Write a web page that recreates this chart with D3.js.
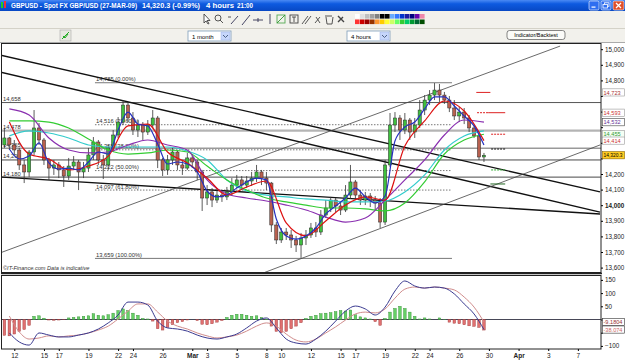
<!DOCTYPE html>
<html>
<head>
<meta charset="utf-8">
<title>GBPUSD 4 hours</title>
<script src="https://cdnjs.cloudflare.com/ajax/libs/d3/7.8.5/d3.min.js"></script>
<style>
  body { margin: 0; background: #ece9d8; overflow: hidden; }
  svg { display: block; font-family: "Liberation Sans", Arial, sans-serif; }
</style>
</head>
<body>
<div id="chart"></div>
<script>
// candles: 3 per trading day, day 0 = thu 12 feb 2009
var firstCandleDay = -2 / 3;
var candlesPerDay = 3;

var opens = [14386,14431,14386,14354,14258,14213,14341,14495,14418,14290, 14238,14258,14226,14187,14251,14277,14213,14238,14322,14405,
    14290,14258,14367,14450,14533,14642,14559,14482,14514,14469, 14514,14559,14290,14226,14290,14341,14258,14238,14303,14277,
    14213,14046,14085,14033,14065,14053,14085,14129,14162,14129, 14155,14174,14213,14174,14142,13873,13777,13828,13809,13777,
    13745,13790,13809,13854,13828,13937,13982,14033,13995,13969, 14065,14149,14065,14033,14059,14033,14014,13892,14258,14514,
    14559,14482,14546,14469,14514,14610,14674,14706,14738,14706, 14674,14623,14572,14597,14559,14495,14444,14309];
var highs = [14495,14437,14418,14367,14290,14354,14610,14527,14431,14303, 14290,14277,14251,14303,14315,14290,14277,14367,14437,14418,
    14322,14386,14482,14565,14674,14662,14597,14546,14533,14546, 14610,14572,14303,14322,14367,14354,14290,14335,14328,14290,
    14226,14129,14110,14110,14097,14117,14174,14194,14187,14187, 14213,14258,14226,14213,14149,13892,13854,13854,13841,13803,
    13822,13841,13886,13892,13969,14033,14053,14046,14021,14129, 14258,14162,14097,14085,14078,14059,14046,14290,14591,14597,
    14578,14591,14559,14559,14674,14706,14738,14783,14777,14726, 14700,14674,14629,14623,14578,14514,14456,14335];
var lows = [14367,14354,14322,14226,14142,14181,14322,14386,14258,14162, 14194,14174,14117,14162,14226,14097,14174,14213,14290,14258,
    14168,14226,14341,14431,14514,14533,14450,14437,14418,14450, 14495,14238,14187,14194,14258,14226,14194,14226,14238,14162,
    13963,14001,13988,14014,14021,14033,14059,14110,14097,14110, 14123,14149,14129,14097,13828,13751,13758,13777,13726,13700,
    13662,13745,13790,13796,13809,13918,13956,13956,13937,13956, 14040,14033,14001,14001,13988,13969,13854,13873,14245,14469,
    14418,14456,14418,14431,14495,14578,14642,14674,14662,14649, 14597,14546,14533,14520,14469,14431,14290,14277];
var closes = [14431,14386,14354,14258,14213,14341,14495,14418,14290,14238, 14258,14226,14187,14251,14277,14213,14238,14322,14405,14290,
    14258,14367,14450,14533,14642,14559,14482,14514,14469,14514, 14559,14290,14226,14290,14341,14258,14238,14303,14277,14213,
    14046,14085,14033,14065,14053,14085,14129,14162,14129,14155, 14174,14213,14174,14142,13873,13777,13828,13809,13777,13745,
    13790,13809,13854,13828,13937,13982,14033,13995,13969,14065, 14149,14065,14033,14059,14033,14014,13892,14258,14514,14559,
    14482,14546,14469,14514,14610,14674,14706,14738,14706,14674, 14623,14572,14597,14559,14495,14444,14309,14320.3];

// moving averages, read every 2nd candle (fast) or every 4th candle (slow)
var maBlue = [14360,14296,14315,14399,14271,14232,14238,14226,14277,14341, 14328,14482,14597,14520,14508,14392,14264,14277,14264,14213,
    14091,14053,14065,14110,14149,14174,14162,13912,13803,13783, 13803,13854,13944,13995,14046,14110,14053,14014,14059,14412,
    14501,14533,14617,14694,14694,14636,14572,14508,14386];
var maRed = [14533,14328,14296,14226,14251,14315,14508,14520,14341,14271, 14174,14065,14117,14155,13886,13803,13899,14001,14053,14033,
    14379,14540,14668,14604,14414];
var maPurple = [14617,14578,14431,14354,14335,14341,14386,14418,14386,14354, 14162,14072,14046,14027,14001,13969,13924,13892,13918,14033,
    14162,14290,14450,14546,14532];
var maGreen = [14540,14540,14533,14495,14424,14354,14328,14335,14354,14341, 14251,14162,14097,14046,14021,14001,13982,13982,13976,13963,
    14014,14149,14328,14418,14455];
var maCyan = [14444,14476,14463,14431,14386,14373,14373,14373,14373,14347, 14290,14162,14091,14065,14053,14040,14033,14021,14021,14027,
    14085,14194,14354,14444,14476];

// macd panel: histogram per candle, lines every 2nd candle
var macdHist = [-60,-62,-55,-45,-38,-22,12,14,5,-2, -3,-2,-1,6,8,10,12,14,22,16, 14,18,24,34,40,34,24,16,4,2,
    -6,-35,-40,-30,-20,-12,-8,-2,0,-4, -18,-20,-16,-10,-4,8,16,20,20,16, 12,14,8,2,-25,-45,-50,-45,-35,-25,
    -12,4,12,16,22,24,26,30,34,32, 36,18,10,6,2,-8,-22,4,28,42, 50,42,28,12,2,6,2,0,6,1, -10,-14,-16,-20,-24,-26,-30,-40];
var macdLine = [-51,-85,-97,-51,-59,-66,-66,-59,-51,-36, -13,17,66,66,55,-6,-32,-36,-44,-59, -70,-74,-66,-55,-32,-6,6,-32,-74,-89,
    -93,-74,-44,-6,32,51,40,17,47,108, 146,127,119,123,119,97,59,21,-38];
var signalLine = [13,-47,-74,-70,-62,-66,-62,-59,-51,-40, -25,2,32,59,59,28,-6,-25,-36,-51, -62,-70,-66,-59,-44,-25,-13,-25,-55,-78,
    -85,-74,-51,-28,-2,21,28,25,40,81, 115,123,119,123,119,112,85,47,-9.18];

// horizontal levels across the whole chart
var levelValues = [14658, 14478, 14365, 14290, 14180];
var levelLabels = ["14,658", "14,478", "14,365", "14,290", "14,180"];

// fibonacci retracement, drawn between two days
var fibDays = [5.44, 29.51];
var fibValues = [14785, 14516, 14355, 14222, 14097, 13659];
var fibLabels = ["14,785 (0.00%)", "14,516 (23.60%)", "14,355 (38.20%)", "14,222 (50.00%)", "14,097 (61.80%)", "13,659 (100.00%)"];

// drawn trend lines: [day, price, day, price]
var trendLines = [[-0.96, 14963, 39.49, 14085], [-0.96, 14854, 39.49, 13956], [-0.96, 14181, 39.49, 13944]];
var channelLines = [[-0.96, 13694, 36.8, 15020], [16.77, 13565, 39.49, 14386]];

// pivot marks right of the last candle
var pivotValues = [14723, 14593, 14593, 14455, 14360, 14226, 14136];
var pivotFrom = [31.15, 31.2, 31.95, 32.15, 32.15, 32.15, 32.1];
var pivotTo = [32.1, 31.95, 33.1, 33.1, 33.1, 33.1, 33.1];

// value boxes on the right axis
var boxValues = [14723, 14593, 14532, 14455, 14414, 14320.3];
var boxLabels = ["14,723", "14,593", "14,532", "14,455", "14,414", "14,320.3"];
var macdBoxValues = [-9.18, -38.07];
var macdBoxLabels = ["-9.1804", "-38.074"];

// x axis labels (trading day index)
var tickDays = [0, 2, 3, 5, 7, 8, 10, 12, 13, 15, 17, 18, 20, 22, 23, 25, 27, 28, 30, 32, 34, 36, 38];
var tickLabels = ["12", "15", "17", "19", "22", "24", "26", "Mar", "3", "5", "8", "10", "12", "15", "17", "19", "22", "24", "26", "30", "Apr", "3", "7"];

var priceTicks = d3.range(13600, 15001, 100);
var macdTicks = [150, 100, 50, 0, -50, -100];


var width = 625, height = 363;

var svg = d3.select("#chart").append("svg")
    .attr("width", width)
    .attr("height", height);

var x = d3.scaleLinear().domain([0, 32]).range([14.3, 488.9]);
var y = d3.scaleLinear().domain([13600, 15000]).range([267.6, 49.2]);
var yMacd = d3.scaleLinear().domain([-100, 150]).range([345.9, 279.9]);

var defs = svg.append("defs");
var grad = defs.append("linearGradient").attr("id", "titleGrad")
    .attr("x1", 0).attr("y1", 0).attr("x2", 0).attr("y2", 1);
grad.append("stop").attr("offset", "0%").attr("stop-color", "#4a8af4");
grad.append("stop").attr("offset", "35%").attr("stop-color", "#0d5ae0");
grad.append("stop").attr("offset", "100%").attr("stop-color", "#0848c4");

defs.append("clipPath").attr("id", "mainClip")
    .append("rect").attr("x", 2).attr("y", 44).attr("width", 599).attr("height", 228);
defs.append("clipPath").attr("id", "macdClip")
    .append("rect").attr("x", 2).attr("y", 276).attr("width", 599).attr("height", 73);

// ---------- window chrome ----------
svg.append("rect").attr("width", width).attr("height", 11).attr("fill", "url(#titleGrad)");
svg.append("rect").attr("x", 1).attr("y", 2).attr("width", 2).attr("height", 6).attr("fill", "#2c2");
svg.append("rect").attr("x", 4).attr("y", 1).attr("width", 2).attr("height", 7).attr("fill", "#e33");

// title pieces: [text, x, width]
var titleParts = [["GBPUSD - Spot FX GBP/USD (27-MAR-09)", 11, 126], ["14,320.3 (-0.99%)", 142, 58], ["4 hours", 206, 28], ["21:00", 237, 16]];
titleParts.forEach(function(t) {
    svg.append("text").attr("x", t[1]).attr("y", 8)
        .attr("font-size", "6.6px").attr("font-weight", "bold").attr("fill", "#fff")
        .attr("textLength", t[2]).attr("lengthAdjust", "spacingAndGlyphs")
        .text(t[0]);
});

// min / restore / close
[589, 601].forEach(function(bx, i) {
    svg.append("rect").attr("x", bx).attr("y", 1).attr("width", 10).attr("height", 9).attr("rx", 1.5)
        .attr("fill", "#2f6ef0").attr("stroke", "#fff").attr("stroke-width", 0.6);
    if (i === 0) {
        svg.append("rect").attr("x", bx + 2.5).attr("y", 6.5).attr("width", 4).attr("height", 1.2).attr("fill", "#fff");
    } else {
        svg.append("rect").attr("x", bx + 3.5).attr("y", 2.8).attr("width", 4.5).attr("height", 3.5)
            .attr("fill", "none").attr("stroke", "#fff").attr("stroke-width", 0.8);
        svg.append("rect").attr("x", bx + 2).attr("y", 4.5).attr("width", 4.5).attr("height", 3.5)
            .attr("fill", "#2f6ef0").attr("stroke", "#fff").attr("stroke-width", 0.8);
    }
});
svg.append("rect").attr("x", 613).attr("y", 1).attr("width", 11).attr("height", 9).attr("rx", 1.5)
    .attr("fill", "#e0502c").attr("stroke", "#fff").attr("stroke-width", 0.6);
svg.append("path").attr("d", "M616,3 L621,8 M621,3 L616,8").attr("stroke", "#fff").attr("stroke-width", 1.3);

// toolbars
svg.append("rect").attr("x", 0).attr("y", 11).attr("width", width).attr("height", 31).attr("fill", "#f2f1ec");
svg.append("line").attr("x1", 0).attr("x2", width).attr("y1", 28.5).attr("y2", 28.5).attr("stroke", "#d4d2c8");
svg.append("line").attr("x1", 0).attr("x2", width).attr("y1", 42.5).attr("y2", 42.5).attr("stroke", "#aaa");

var tools = svg.append("g").attr("stroke", "#444").attr("fill", "none").attr("stroke-width", 0.9);
tools.append("path").attr("d", "M204,14 l0,9 l2,-2 l2,3 l1,-0.5 l-2,-3 l3,0 z").attr("fill", "#fff");
tools.append("circle").attr("cx", 218).attr("cy", 18).attr("r", 3);
tools.append("path").attr("d", "M220,20 l3,3 M228,17 l3,0");
tools.append("path").attr("d", "M231,24 l7,-8").attr("stroke", "#335");
tools.append("path").attr("d", "M242,25 l8,-10").attr("stroke", "#335");
tools.append("path").attr("d", "M253,20 l10,0 M258,18 l0,4").attr("stroke", "#335");
tools.append("path").attr("d", "M270,14 l0,10").attr("stroke", "#335");
tools.append("rect").attr("x", 277).attr("y", 15).attr("width", 8).attr("height", 8).attr("stroke", "#5a5");
tools.append("path").attr("d", "M277,23 l8,-8").attr("stroke", "#393");
tools.append("rect").attr("x", 290).attr("y", 15).attr("width", 8).attr("height", 8);
tools.append("path").attr("d", "M292,17 l4,0 M294,17 l0,5");
tools.append("path").attr("d", "M302,24 l6,-8 M305,24 l6,-8");
tools.append("path").attr("d", "M315,23 l5,-6 M316,17 l4,6");
tools.append("path").attr("d", "M325,16 l7,0 M326,17 l1,7 l5,0 l1,-7");
tools.append("path").attr("d", "M338,16 l6,6 M338,22 l5,-5").attr("stroke-width", 1.4);

var paletteTop = ["#ffffff", "#e0e0e0", "#c0c0c0", "#a0a0a0", "#808080", "#000000", "#000000", "#66aaff", "#3377ff", "#0033cc", "#1a1aa0", "#000080", "#6600aa", "#ee88aa"];
var paletteBottom = ["#ff3333", "#cc0000", "#990000", "#993300", "#ff9933", "#ffcc00", "#ffff33", "#ccff66", "#66ff66", "#33cc33", "#00cc66", "#009933", "#006633", "#004d00"];
paletteTop.forEach(function(c, i) {
    svg.append("rect").attr("x", 355 + i * 5).attr("y", 14).attr("width", 4.6).attr("height", 4.6).attr("fill", c);
});
paletteBottom.forEach(function(c, i) {
    svg.append("rect").attr("x", 355 + i * 5).attr("y", 19.5).attr("width", 4.6).attr("height", 4.6).attr("fill", c);
});

// third row: chart icon, dropdowns, button
svg.append("rect").attr("x", 60).attr("y", 30).attr("width", 11).attr("height", 11)
    .attr("fill", "#e8e8e0").attr("stroke", "#aaa").attr("stroke-width", 0.6);
svg.append("path").attr("d", "M62,39 l7,-7 M63,36 l2,2 l3,-4").attr("stroke", "#2a2").attr("fill", "none");

function dropdown(x0, w, label) {
    svg.append("rect").attr("x", x0).attr("y", 31).attr("width", w).attr("height", 10)
        .attr("fill", "#fff").attr("stroke", "#7f9db9").attr("stroke-width", 0.8);
    svg.append("rect").attr("x", x0 + w - 10).attr("y", 32).attr("width", 9).attr("height", 8)
        .attr("fill", "#c6d6fb").attr("stroke", "#9fb3e6").attr("stroke-width", 0.5);
    svg.append("path").attr("d", "M" + (x0 + w - 8) + ",35 l2.5,2.5 l2.5,-2.5")
        .attr("fill", "none").attr("stroke", "#4d6185").attr("stroke-width", 1);
    svg.append("text").attr("x", x0 + 4).attr("y", 38.5).attr("font-size", "6px").attr("fill", "#000").text(label);
}
dropdown(188, 43, "1 month");
dropdown(347, 43, "4 hours");

svg.append("rect").attr("x", 507).attr("y", 30.5).attr("width", 58).attr("height", 9).attr("rx", 2.5)
    .attr("fill", "#fbfbf8").attr("stroke", "#555").attr("stroke-width", 0.7);
svg.append("text").attr("x", 536).attr("y", 37.3).attr("text-anchor", "middle")
    .attr("font-size", "5.5px").attr("fill", "#000").text("Indicator/Backtest");

// ---------- chart area ----------
svg.append("rect").attr("x", 0).attr("y", 43).attr("width", width).attr("height", 320).attr("fill", "#fff");

var mainG = svg.append("g").attr("clip-path", "url(#mainClip)");

// horizontal levels
var levelStyle = [["#555", 1], ["#b4b4b4", 2.2], ["#999", 1.4], ["#333", 0.9], ["#333", 0.9]];
mainG.append("g").selectAll("line")
    .data(levelValues)
    .enter()
    .append("line")
    .attr("x1", 1).attr("x2", 601)
    .attr("y1", d => y(d)).attr("y2", d => y(d))
    .attr("stroke", (d, i) => levelStyle[i][0])
    .attr("stroke-width", (d, i) => levelStyle[i][1]);

mainG.append("g").selectAll("text")
    .data(levelValues)
    .enter()
    .append("text")
    .attr("x", 3).attr("y", d => y(d) - 1.5)
    .attr("font-size", "5.8px").attr("fill", "#333")
    .text((d, i) => levelLabels[i]);

// fibonacci retracement
mainG.append("g").selectAll("line")
    .data(fibValues)
    .enter()
    .append("line")
    .attr("x1", x(fibDays[0])).attr("x2", x(fibDays[1]))
    .attr("y1", d => y(d)).attr("y2", d => y(d))
    .attr("stroke", "#555")
    .attr("stroke-width", 0.8)
    .attr("stroke-dasharray", (d, i) => (i === 0 || i === fibValues.length - 1) ? null : "1.5,1.5");

mainG.append("g").selectAll("text")
    .data(fibValues)
    .enter()
    .append("text")
    .attr("x", x(fibDays[0]) + 1).attr("y", d => y(d) - 1.5)
    .attr("font-size", "5.8px").attr("fill", "#333")
    .text((d, i) => fibLabels[i]);

// trend lines and channel
mainG.append("g").selectAll("line")
    .data(trendLines)
    .enter()
    .append("line")
    .attr("x1", d => x(d[0])).attr("y1", d => y(d[1]))
    .attr("x2", d => x(d[2])).attr("y2", d => y(d[3]))
    .attr("stroke", "#111").attr("stroke-width", 1.4);

mainG.append("g").selectAll("line")
    .data(channelLines)
    .enter()
    .append("line")
    .attr("x1", d => x(d[0])).attr("y1", d => y(d[1]))
    .attr("x2", d => x(d[2])).attr("y2", d => y(d[3]))
    .attr("stroke", "#444").attr("stroke-width", 0.8);

// candles
var candles = d3.range(closes.length).map(function(i) {
    return { day: firstCandleDay + i / candlesPerDay, o: opens[i], h: highs[i], l: lows[i], c: closes[i] };
});

var candleG = mainG.append("g");
candleG.selectAll("line")
    .data(candles)
    .enter()
    .append("line")
    .attr("x1", d => x(d.day)).attr("x2", d => x(d.day))
    .attr("y1", d => y(d.h)).attr("y2", d => y(d.l))
    .attr("stroke", "#333").attr("stroke-width", 0.8);

candleG.selectAll("rect")
    .data(candles)
    .enter()
    .append("rect")
    .attr("x", d => x(d.day) - 1.6)
    .attr("width", 3.2)
    .attr("y", d => y(Math.max(d.o, d.c)))
    .attr("height", d => Math.max(1, Math.abs(y(d.o) - y(d.c))))
    .attr("fill", d => d.c >= d.o ? "#3fbf3f" : "#b8604f")
    .attr("stroke", "#2a2a2a")
    .attr("stroke-width", 0.5);

// moving averages
var fastDays = d3.range(1, closes.length, 2).map(i => candles[i].day);
var slowDays = d3.range(1, closes.length, 4).map(i => candles[i].day);

var maLine = d3.line()
    .x(d => x(d[0]))
    .y(d => y(d[1]))
    .curve(d3.curveMonotoneX);

var maSeries = [
    { days: slowDays, values: maCyan, color: "#33cccc" },
    { days: slowDays, values: maGreen, color: "#33cc33" },
    { days: slowDays, values: maPurple, color: "#8a2fb0" },
    { days: slowDays, values: maRed, color: "#dd1111" },
    { days: fastDays, values: maBlue, color: "#2430c0" }
];

mainG.append("g").selectAll("path")
    .data(maSeries)
    .enter()
    .append("path")
    .attr("d", s => maLine(s.values.map((v, i) => [s.days[i], v])))
    .attr("fill", "none")
    .attr("stroke", s => s.color)
    .attr("stroke-width", 1.2);

// pivot marks
var pivotStyle = [["#dd2222", null], ["#dd2222", "2,1"], ["#dd2222", null], ["#dd2222", "2,1"], ["#111", "2,1"], ["#33aa33", "2,1"], ["#226622", null]];
mainG.append("g").selectAll("line")
    .data(pivotValues)
    .enter()
    .append("line")
    .attr("x1", (d, i) => x(pivotFrom[i])).attr("x2", (d, i) => x(pivotTo[i]))
    .attr("y1", d => y(d)).attr("y2", d => y(d))
    .attr("stroke", (d, i) => pivotStyle[i][0])
    .attr("stroke-dasharray", (d, i) => pivotStyle[i][1])
    .attr("stroke-width", 1);

mainG.append("text")
    .attr("x", 3).attr("y", 270)
    .attr("font-size", "5.6px").attr("font-style", "italic").attr("fill", "#333")
    .text("©IT-Finance.com   Data is indicative");

// main panel frame
svg.append("rect").attr("x", 1.5).attr("y", 43.5).attr("width", 599.5).attr("height", 229)
    .attr("fill", "none").attr("stroke", "#222").attr("stroke-width", 1);
svg.append("line").attr("x1", 1).attr("x2", 602).attr("y1", 273.5).attr("y2", 273.5)
    .attr("stroke", "#222").attr("stroke-width", 1.5);

// right price axis, labels hidden where a value box sits on top
var yAxis = d3.axisRight(y)
    .tickValues(priceTicks)
    .tickFormat(d3.format(","))
    .tickSize(2)
    .tickSizeOuter(0);

var yAxisG = svg.append("g")
    .attr("transform", "translate(601, 0)")
    .call(yAxis);
yAxisG.select(".domain").remove();
yAxisG.attr("font-family", null).attr("font-size", null);
yAxisG.selectAll("text")
    .attr("x", 4)
    .style("font-size", "6.3px")
    .style("fill", "#222")
    .style("font-weight", d => d === 14000 ? "bold" : null)
    .style("display", d => boxValues.some(b => Math.abs(y(b) - y(d)) < 7) ? "none" : null);

// value boxes
var boxStyle = [["#fff", "#a33", "#999"], ["#fff", "#c33", "#999"], ["#fff", "#639", "#444"], ["#f4fff4", "#393", "#999"], ["#fff", "#c33", "#999"], ["#ffcc22", "#000", "#886600"]];
var boxG = svg.append("g");
boxValues.forEach(function(v, i) {
    boxG.append("rect")
        .attr("x", 602.5).attr("y", y(v) - 3.6).attr("width", 22).attr("height", 7.2)
        .attr("fill", boxStyle[i][0]).attr("stroke", boxStyle[i][2]).attr("stroke-width", 0.6);
    boxG.append("text")
        .attr("x", 603.5).attr("y", y(v) + 2.1)
        .attr("font-size", "5.6px").attr("fill", boxStyle[i][1])
        .attr("textLength", boxLabels[i].length > 6 ? 19 : null)
        .attr("lengthAdjust", "spacingAndGlyphs")
        .text(boxLabels[i]);
});

// ---------- macd panel ----------
var macdG = svg.append("g").attr("clip-path", "url(#macdClip)");

macdG.append("line")
    .attr("x1", 1).attr("x2", 601)
    .attr("y1", yMacd(0)).attr("y2", yMacd(0))
    .attr("stroke", "#334").attr("stroke-width", 0.9);

macdG.append("g").selectAll("rect")
    .data(macdHist)
    .enter()
    .append("rect")
    .attr("x", (d, i) => x(candles[i].day) - 1.3)
    .attr("width", 2.6)
    .attr("y", d => yMacd(Math.max(0, d)))
    .attr("height", d => Math.abs(yMacd(d) - yMacd(0)))
    .attr("fill", d => d >= 0 ? "#66d066" : "#e07070")
    .attr("stroke", d => d >= 0 ? "#2d8a2d" : "#9a3333")
    .attr("stroke-width", 0.4);

var macdPath = d3.line()
    .x(d => x(d[0]))
    .y(d => yMacd(d[1]))
    .curve(d3.curveMonotoneX);

macdG.append("path")
    .attr("d", macdPath(signalLine.map((v, i) => [fastDays[i], v])))
    .attr("fill", "none").attr("stroke", "#d08c8c").attr("stroke-width", 1);

macdG.append("path")
    .attr("d", macdPath(macdLine.map((v, i) => [fastDays[i], v])))
    .attr("fill", "none").attr("stroke", "#3a3a90").attr("stroke-width", 1);

svg.append("rect").attr("x", 1.5).attr("y", 275.5).attr("width", 599.5).attr("height", 73.5)
    .attr("fill", "none").attr("stroke", "#222").attr("stroke-width", 1);

var macdAxis = d3.axisRight(yMacd)
    .tickValues(macdTicks)
    .tickSize(2)
    .tickSizeOuter(0);
var macdAxisG = svg.append("g")
    .attr("transform", "translate(601, 0)")
    .call(macdAxis);
macdAxisG.select(".domain").remove();
macdAxisG.attr("font-family", null).attr("font-size", null);
macdAxisG.selectAll("text")
    .attr("x", 4)
    .style("font-size", "6.3px")
    .style("fill", "#222")
    .style("display", d => macdBoxValues.some(b => Math.abs(yMacd(b) - yMacd(d)) < 7) ? "none" : null);

var macdBoxColors = ["#933", "#c66"];
macdBoxValues.forEach(function(v, i) {
    svg.append("rect")
        .attr("x", 602.5).attr("y", yMacd(v) - 3.6).attr("width", 22).attr("height", 7.2)
        .attr("fill", "#fff").attr("stroke", "#333").attr("stroke-width", 0.6);
    svg.append("text")
        .attr("x", 603.5).attr("y", yMacd(v) + 2.1)
        .attr("font-size", "5.6px").attr("fill", macdBoxColors[i])
        .text(macdBoxLabels[i]);
});

// ---------- time axis ----------
var xAxis = d3.axisBottom(x)
    .tickValues(tickDays)
    .tickFormat((d, i) => tickLabels[i])
    .tickSize(2)
    .tickSizeOuter(0);

var xAxisG = svg.append("g")
    .attr("transform", "translate(0, 349)")
    .call(xAxis);
xAxisG.select(".domain").remove();
xAxisG.attr("font-family", null).attr("font-size", null);
xAxisG.selectAll("text")
    .attr("y", 4)
    .style("font-size", "6.5px")
    .style("fill", "#222")
    .style("font-weight", (d, i) => (tickLabels[i] === "Mar" || tickLabels[i] === "Apr") ? "bold" : null);
</script>
</body>
</html>
